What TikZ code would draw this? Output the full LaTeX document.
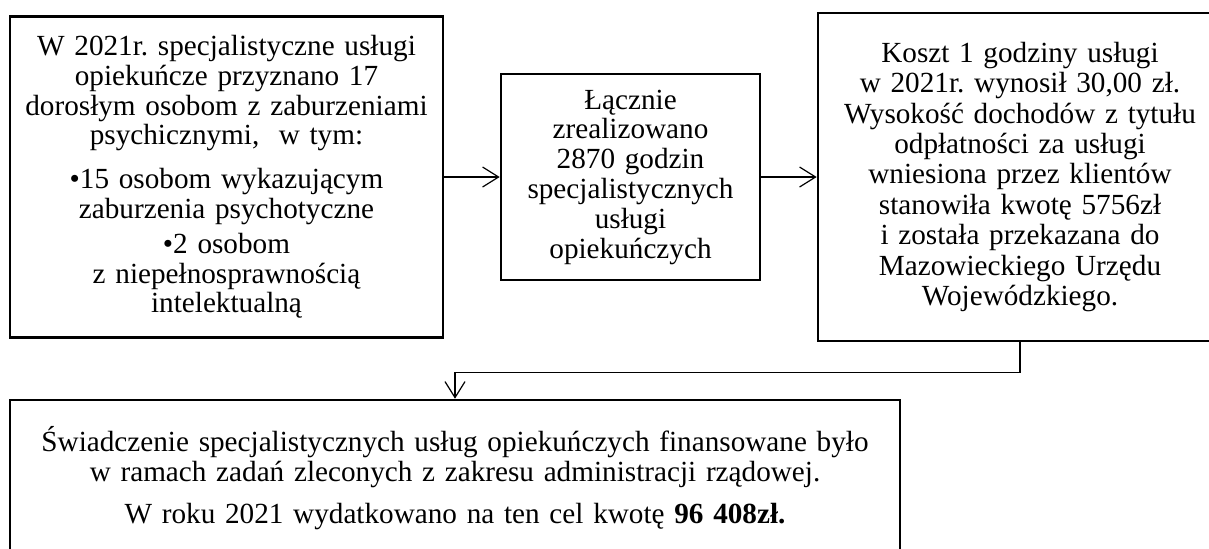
\documentclass[tikz,border=0pt]{standalone}
\usepackage{fontspec}
\setmainfont{Liberation Serif}
\usetikzlibrary{arrows.meta}
\frenchspacing

\begin{document}
\begin{tikzpicture}[x=0.5pt,y=-0.5pt]
\tikzstyle{box}=[draw=black,line width=1.3pt,align=center,inner sep=0pt,font={\fontsize{14.6}{14.9}\selectfont\normalbaselineskip=14.9pt}]
\tikzstyle{link}=[black,line width=0.6pt,-{Straight Barb[length=8pt,width=10pt]}]
\useasboundingbox (0,0) rectangle (1209,548);
\node [box,text width=216.5pt,minimum height=160.5pt] (osoby) at (226.5,177) {W 2021r. specjalistyczne usługi\\ opiekuńcze przyznano 17\\ dorosłym osobom z zaburzeniami\\ psychicznymi,~ w tym:\\[7pt] •15 osobom wykazującym\\ zaburzenia psychotyczne\\[2.5pt] •2 osobom\\ z niepełnosprawnością\\ intelektualną};
\node [box,text width=129.5pt,minimum height=103pt] (godziny) at (630.5,177) {Łącznie\\ zrealizowano\\ 2870 godzin\\ specjalistycznych\\ usługi\\ opiekuńczych};
\node [box,text width=202pt,minimum height=164pt,font={\fontsize{14.6}{15.2}\selectfont\normalbaselineskip=15.2pt}] (koszt) at (1020,177) {Koszt 1 godziny usługi\\ w 2021r. wynosił 30,00 zł.\\ Wysokość dochodów z tytułu\\ odpłatności za usługi\\ wniesiona przez klientów\\ stanowiła kwotę 5756zł\\ i została przekazana do\\ Mazowieckiego Urzędu\\ Wojewódzkiego.};
\node [box,text width=445pt,minimum height=78pt] (wydatki) at (455,478) {Świadczenie specjalistycznych usług opiekuńczych finansowane było\\ w ramach zadań zleconych z zakresu administracji rządowej.\\[6pt] W roku 2021 wydatkowano na ten cel kwotę \textbf{96 408zł.}};
\draw [link] (osoby) -- (godziny);
\draw [link] (godziny) -- (koszt);
\draw [link] (koszt.south) -- ++(0,30) -| (wydatki.north);
\end{tikzpicture}
\end{document}
